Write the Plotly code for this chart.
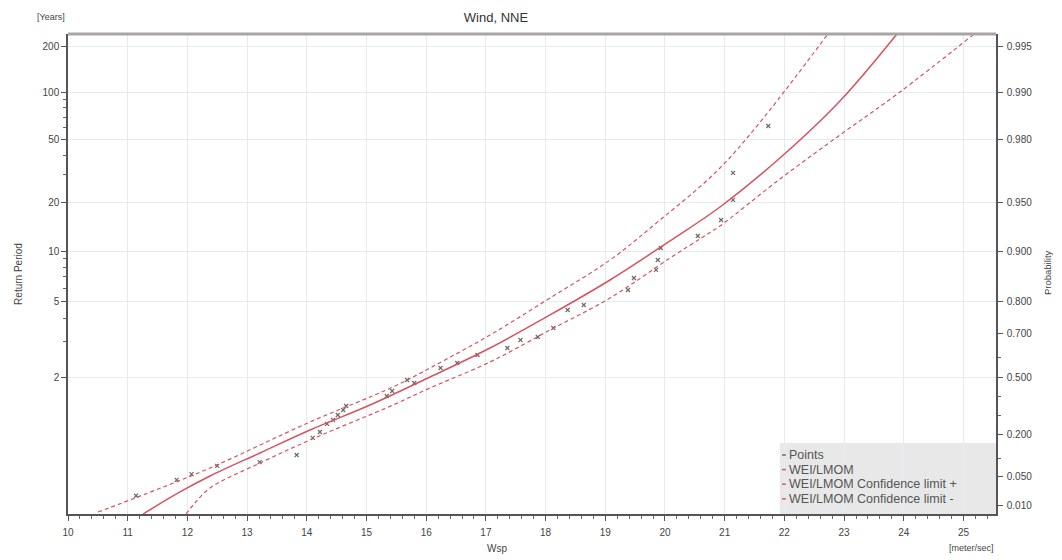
import math
import plotly.graph_objects as go

# ---------------- data ----------------
# observed points: wind speed [m/s] and return period [years]
pts_wsp = [11.14, 11.82, 12.07, 12.50, 13.21, 13.83, 14.10, 14.22, 14.34, 14.44,
           14.52, 14.61, 14.66, 15.34, 15.43, 15.68, 15.80, 16.24, 16.52, 16.86,
           17.36, 17.58, 17.87, 18.13, 18.37, 18.64, 19.38, 19.48, 19.85, 19.88,
           19.93, 20.55, 20.94, 21.14, 21.14, 21.73]
pts_T = [1.019, 1.045, 1.059, 1.084, 1.098, 1.128, 1.227, 1.271, 1.340, 1.378,
         1.430, 1.488, 1.538, 1.679, 1.758, 1.960, 1.901, 2.223, 2.349, 2.571,
         2.790, 3.069, 3.183, 3.559, 4.480, 4.782, 5.845, 6.877, 7.687, 8.826,
         10.45, 12.39, 15.56, 20.8, 30.8, 61.3]

# fitted WEI/LMOM curve
fit_wsp = [11.256, 11.876, 12.379, 13.216, 14.054, 15.059, 16.064, 17.069,
           18.074, 19.079, 20.084, 20.921, 21.926, 22.931, 23.886]
fit_T = [1.0054, 1.0237, 1.0541, 1.1378, 1.2871, 1.5509, 2.021, 2.790,
         4.200, 6.693, 11.55, 18.78, 38.33, 88.7, 239.1]

# confidence limit +
up_wsp = [10.503, 11.256, 12.379, 14.054, 15.444, 16.064, 17.069, 18.074,
          19.079, 19.916, 20.838, 21.541, 22.730]
up_T = [1.0063, 1.0199, 1.0771, 1.3585, 1.828, 2.223, 3.262, 5.249,
        8.826, 15.56, 30.8, 61.3, 239.1]

# confidence limit -
lo_wsp = [11.977, 12.127, 12.379, 13.216, 14.054, 15.444, 16.064, 17.069,
          18.074, 19.079, 20.084, 20.637, 20.921, 21.926, 22.931, 23.936, 25.159]
lo_T = [1.0054, 1.012, 1.0296, 1.0945, 1.2127, 1.5509, 1.810, 2.375,
        3.470, 5.249, 9.077, 12.22, 14.29, 28.19, 53.73, 101.3, 235.5]

# legend entries
legend_names = ["Points", "WEI/LMOM", "WEI/LMOM Confidence limit +",
                "WEI/LMOM Confidence limit -"]

# axis ticks
rp_ticks = [200, 100, 50, 20, 10, 5, 2]
rp_minor = [300, 90, 80, 70, 60, 40, 30, 9, 8, 7, 6, 4, 3]
prob_ticks = [0.995, 0.990, 0.980, 0.950, 0.900, 0.800, 0.700, 0.500, 0.200, 0.050, 0.010]
prob_minor = [0.600, 0.400, 0.300, 0.100]


# Gumbel reduced-variate scale
def gT(T):
    return -math.log(-math.log(1.0 - 1.0 / T))


def gp(p):
    return -math.log(-math.log(p))


YR = [-1.653, 5.474]
XR = [10.0, 25.545]

RED = "#d6545f"
GREY_PT = "#6a6a6a"
FONT = "Liberation Sans, Arial, sans-serif"
TXT = "#444444"

fig = go.Figure()
fig.add_trace(go.Scatter(
    x=pts_wsp, y=[gT(t) for t in pts_T], mode="markers", name=legend_names[0],
    marker=dict(symbol="x-thin", size=4, color=GREY_PT,
                line=dict(width=1.2, color=GREY_PT))))
fig.add_trace(go.Scatter(
    x=fit_wsp, y=[gT(t) for t in fit_T], mode="lines", name=legend_names[1],
    line=dict(color=RED, width=1.5, shape="spline")))
fig.add_trace(go.Scatter(
    x=up_wsp, y=[gT(t) for t in up_T], mode="lines", name=legend_names[2],
    line=dict(color=RED, width=1.2, dash="4px,3px", shape="spline")))
fig.add_trace(go.Scatter(
    x=lo_wsp, y=[gT(t) for t in lo_T], mode="lines", name=legend_names[3],
    line=dict(color=RED, width=1.2, dash="4px,3px", shape="spline")))
# carrier for right axis
fig.add_trace(go.Scatter(x=[XR[0]], y=[YR[0]], yaxis="y2", mode="markers",
                         marker=dict(opacity=0), showlegend=False, hoverinfo="skip"))

# the page body adds an 8px offset, so the figure is 8px smaller and margins shifted
fig.update_layout(
    width=1054, height=552,
    margin=dict(l=60, r=66, t=26, b=46, autoexpand=False),
    paper_bgcolor="white", plot_bgcolor="white",
    font=dict(family=FONT, size=10, color=TXT),
    title=dict(text="Wind, NNE", x=0.463, xanchor="center", y=0.982, yanchor="middle",
               font=dict(family=FONT, size=13, color="#333333")),
    showlegend=False,
    xaxis=dict(range=XR, tickvals=list(range(10, 26)),
               ticks="outside", ticklen=5, tickcolor="#555555",
               ticklabelstandoff=3,
               showline=True, linecolor="#555555", linewidth=1.5,
               showgrid=True, gridcolor="#e6ebf0", gridwidth=1,
               zeroline=False, automargin=False,
               minor=dict(dtick=0.2, ticks="outside", ticklen=3,
                          tickcolor="#666666", showgrid=False)),
    yaxis=dict(range=YR, tickvals=[gT(t) for t in rp_ticks],
               ticktext=[str(t) for t in rp_ticks],
               ticks="outside", ticklen=5, tickcolor="#555555",
               showline=True, linecolor="#555555", linewidth=1.5,
               showgrid=True, gridcolor="#e6ebf0", gridwidth=1,
               zeroline=False, automargin=False,
               minor=dict(tickvals=[gT(t) for t in rp_minor], ticks="outside",
                          ticklen=3, tickcolor="#666666", showgrid=False)),
    yaxis2=dict(range=YR, overlaying="y", side="right",
                tickvals=[gp(p) for p in prob_ticks],
                ticktext=["%.3f" % p for p in prob_ticks],
                ticks="outside", ticklen=5, tickcolor="#555555",
                ticklabelstandoff=2,
                showline=True, linecolor="#555555", linewidth=1.5,
                showgrid=False, zeroline=False, automargin=False,
                minor=dict(tickvals=[gp(p) for p in prob_minor], ticks="outside",
                           ticklen=3, tickcolor="#666666", showgrid=False)),
)

# top frame border
fig.add_shape(type="line", xref="paper", yref="paper", x0=0, x1=1, y0=1, y1=1,
              line=dict(color="#a6a6a6", width=3))

# legend box drawn in the lower-right corner
fig.add_shape(type="rect", xref="paper", yref="paper", x0=0.767, x1=1.0,
              y0=0.0, y1=0.148, fillcolor="#e8e8e8", line=dict(width=0), layer="below")
leg_colors = [GREY_PT, RED, RED, RED]
for i, (nm, col) in enumerate(zip(legend_names, leg_colors)):
    yy = 0.123 - i * 0.0305
    fig.add_shape(type="line", xref="paper", yref="paper",
                  x0=0.7695, x1=0.7735, y0=yy, y1=yy, line=dict(color=col, width=1.5))
    fig.add_annotation(text=nm, xref="paper", yref="paper", x=0.7745, y=yy,
                       xanchor="left", yanchor="middle", showarrow=False,
                       font=dict(size=12.5, color="#555555"))

# axis titles and units
fig.add_annotation(text="Wsp", xref="paper", yref="paper", x=0.462, y=0,
                   xanchor="center", yanchor="middle", yshift=-34, showarrow=False,
                   font=dict(size=10, color=TXT))
fig.add_annotation(text="Return Period", xref="paper", yref="paper", x=-0.054, y=0.5,
                   xanchor="center", yanchor="middle", textangle=-90, showarrow=False,
                   font=dict(size=10, color=TXT))
fig.add_annotation(text="[Years]", xref="paper", yref="paper", x=-0.018, y=1.0,
                   xanchor="center", yanchor="middle", yshift=17, showarrow=False,
                   font=dict(size=9, color=TXT))
fig.add_annotation(text="[meter/sec]", xref="paper", yref="paper", x=1.0, y=0,
                   xanchor="right", yanchor="middle", yshift=-34, showarrow=False,
                   font=dict(size=9, color=TXT))
fig.add_annotation(text="Probability", xref="paper", yref="paper", x=1.0, y=0.502,
                   xanchor="center", yanchor="middle", xshift=51, textangle=-90,
                   showarrow=False, font=dict(size=9.5, color=TXT))

fig.write_html("out.html")
